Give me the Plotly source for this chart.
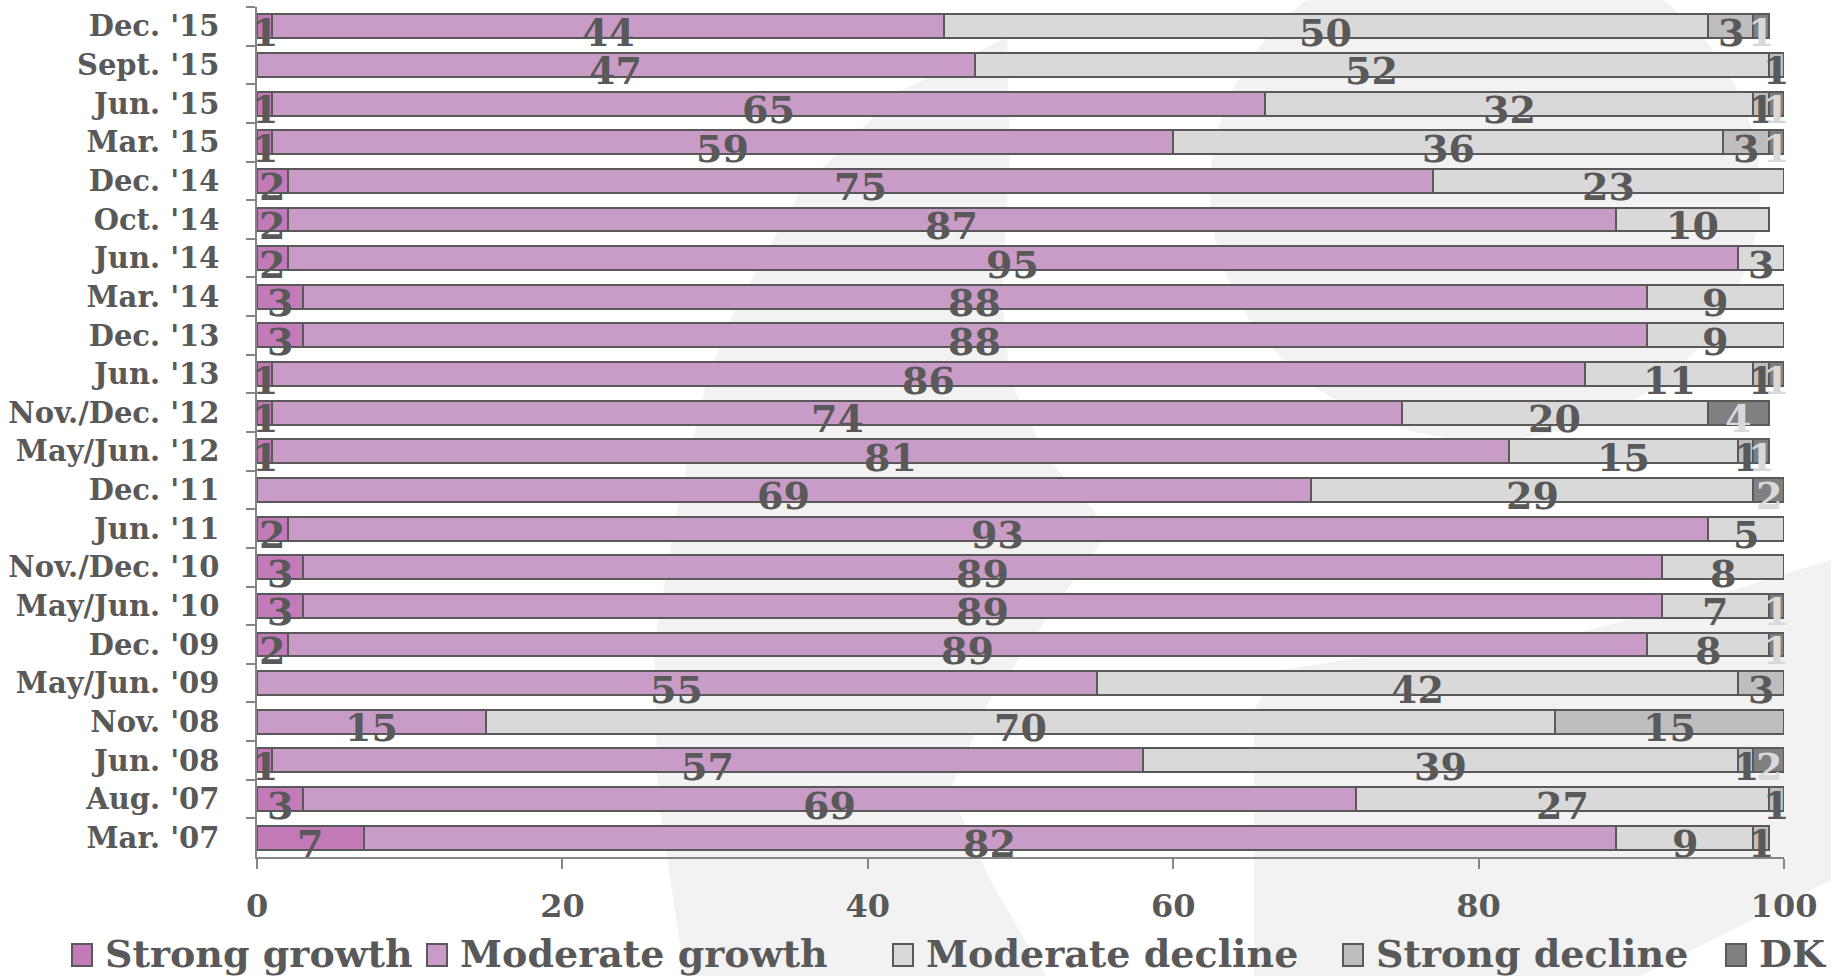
import plotly.graph_objs as go

# DATA (top row first)
categories = ["Dec. '15", "Sept. '15", "Jun. '15", "Mar. '15", "Dec. '14", "Oct. '14", "Jun. '14",
              "Mar. '14", "Dec. '13", "Jun. '13", "Nov./Dec. '12", "May/Jun. '12", "Dec. '11",
              "Jun. '11", "Nov./Dec. '10", "May/Jun. '10", "Dec. '09", "May/Jun. '09", "Nov. '08",
              "Jun. '08", "Aug. '07", "Mar. '07"]
strong_growth = [1, 0, 1, 1, 2, 2, 2, 3, 3, 1, 1, 1, 0, 2, 3, 3, 2, 0, 0, 1, 3, 7]
moderate_growth = [44, 47, 65, 59, 75, 87, 95, 88, 88, 86, 74, 81, 69, 93, 89, 89, 89, 55, 15, 57, 69, 82]
moderate_decline = [50, 52, 32, 36, 23, 10, 3, 9, 9, 11, 20, 15, 29, 5, 8, 7, 8, 42, 70, 39, 27, 9]
strong_decline = [3, 1, 1, 3, 0, 0, 0, 0, 0, 1, 0, 1, 0, 0, 0, 0, 0, 3, 15, 1, 1, 1]
dk = [1, 0, 1, 1, 0, 0, 0, 0, 0, 1, 4, 1, 2, 0, 0, 1, 1, 0, 0, 2, 0, 0]
x_ticks = [0, 20, 40, 60, 80, 100]

series = [
    ('Strong growth', strong_growth, '#C27BB8', '#595959'),
    ('Moderate growth', moderate_growth, '#C89CC6', '#595959'),
    ('Moderate decline', moderate_decline, '#D9D9D9', '#595959'),
    ('Strong decline', strong_decline, '#BFBDBD', '#595959'),
    ('DK', dk, '#808080', '#D9D9D9'),
]

FONT = 'DejaVu Serif'
TEXT = '#595959'
W, H = 1831, 976
L, R, T, B = 257, 47, 7, 119


def px(x, y):
    # pixel position -> paper coordinates
    return (x - L) / (W - L - R), (H - B - y) / (H - T - B)


def path(points):
    pts = [px(x, y) for x, y in points]
    return 'M ' + ' L '.join(f'{a:.4f},{b:.4f}' for a, b in pts) + ' Z'


fig = go.Figure()

for name, values, color, _ in series:
    fig.add_trace(go.Bar(
        y=categories,
        x=values,
        name=name,
        orientation='h',
        marker=dict(color=color, line=dict(color='#595959', width=2)),
        hoverinfo='x+y+name',
        showlegend=False,
    ))

# data labels, centred in each segment and dropped a little like the original
annotations = []
start = [0] * len(categories)
for name, values, color, label_color in series:
    for i, v in enumerate(values):
        if v > 0:
            annotations.append(dict(
                x=start[i] + v / 2, y=categories[i], text=str(v), showarrow=False,
                yshift=-6, font=dict(family=FONT, size=38, color=label_color, weight='bold'),
            ))
        start[i] += v

# light grey watermark behind the plot
shapes = []
watermark = [
    dict(type='circle', x0=px(1210, 0)[0], x1=px(1760, 0)[0], y0=px(0, 440)[1], y1=px(0, -60)[1]),
    dict(type='path', path=path([(685, 976), (658, 798), (654, 646), (680, 494), (707, 380), (734, 311),
                                 (803, 187), (897, 93), (1007, 37), (1010, 150), (1002, 300), (1010, 380),
                                 (1046, 456), (1110, 530), (1060, 600), (990, 700), (950, 790),
                                 (990, 880), (1046, 976)])),
    dict(type='path', path=path([(1254, 976), (1254, 710), (1280, 670), (1367, 657), (1541, 643),
                                 (1700, 600), (1831, 560), (1831, 880), (1640, 976)])),
]
for s in watermark:
    s.update(xref='paper', yref='paper', layer='below', fillcolor='#F2F2F2', line=dict(width=0))
    shapes.append(s)

# legend drawn by hand so the big squares and spacing match
legend_square_x = [72, 427, 893, 1343, 1726]
legend_text_x = [103, 458, 924, 1374, 1757]
for (name, values, color, _), sx, tx in zip(series, legend_square_x, legend_text_x):
    x0, y0 = px(sx, 966)
    x1, y1 = px(sx + 20, 944)
    shapes.append(dict(type='rect', xref='paper', yref='paper', x0=x0, x1=x1, y0=y0, y1=y1,
                       fillcolor=color, line=dict(color='#595959', width=2)))
    ax, ay = px(tx, 953)
    annotations.append(dict(x=ax, y=ay, xref='paper', yref='paper', text=name, showarrow=False,
                            xanchor='left', yanchor='middle',
                            font=dict(family=FONT, size=38, color=TEXT, weight='bold')))

fig.update_layout(
    barmode='stack',
    bargap=0.38,
    width=W,
    height=H,
    margin=dict(l=L, r=R, t=T, b=B, autoexpand=False),
    paper_bgcolor='white',
    plot_bgcolor='rgba(0,0,0,0)',
    font=dict(family=FONT, color=TEXT, weight='bold'),
    annotations=annotations,
    shapes=shapes,
    showlegend=False,
    xaxis=dict(
        range=[0, 100], tickvals=x_ticks, showgrid=False, zeroline=False, automargin=False,
        showline=True, linecolor='#868686', linewidth=1.5,
        ticks='outside', ticklen=10, tickcolor='#868686', tickwidth=1.5,
        tickfont=dict(family=FONT, size=32, color=TEXT, weight='bold'), ticklabelstandoff=10,
    ),
    yaxis=dict(
        type='category', range=[len(categories) - 0.5, -0.5], showgrid=False, automargin=False,
        showline=True, linecolor='#868686', linewidth=1.5,
        ticks='outside', tickson='boundaries', ticklen=9, tickcolor='#868686', tickwidth=1.5,
        tickfont=dict(family=FONT, size=29, color=TEXT, weight='bold'), ticklabelstandoff=30,
    ),
)

# drop the page's default body margin so the figure fills the window exactly
fig.write_html("out.html", config={'displayModeBar': False},
               post_script="document.body.style.margin='0';document.body.style.overflow='hidden';")
